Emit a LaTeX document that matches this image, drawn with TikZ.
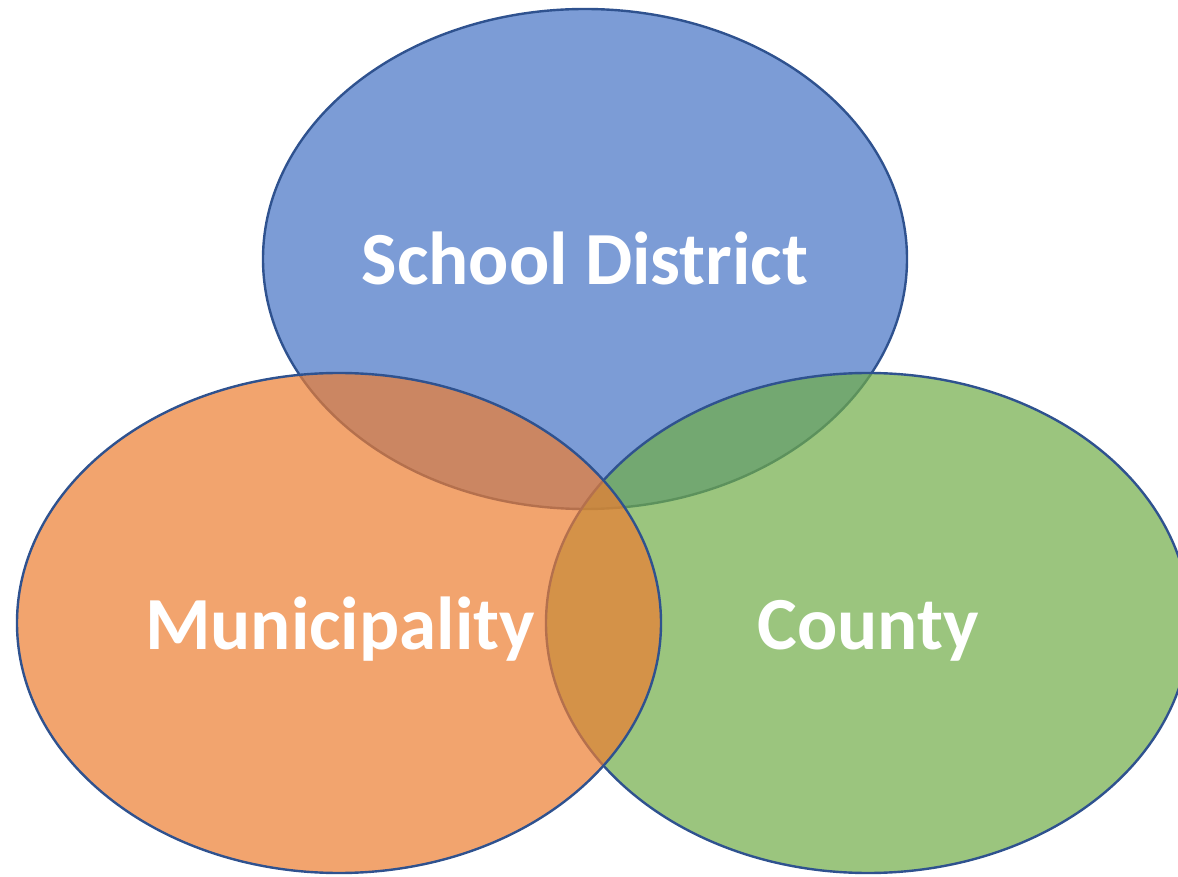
\documentclass[tikz,border=0pt]{standalone}
\usepackage{fontspec}
\setmainfont{Carlito}
\begin{document}
\begin{tikzpicture}[x=1pt,y=1pt,
  venn/.style={draw=rimblue, line width=2.4pt, fill opacity=0.7},
  label/.style={text=white, font=\bfseries\fontsize{75}{84}\selectfont, anchor=base}]
\definecolor{rimblue}{HTML}{2F528F}
\definecolor{setblue}{HTML}{4472C4}
\definecolor{setorange}{HTML}{ED7D31}
\definecolor{setgreen}{HTML}{70AD47}
\useasboundingbox (0,0) rectangle (1178,876);
\begin{scope}
\clip (0,0) rectangle (1178,876);
% three overlapping sets
\draw[venn, fill=setblue] (585,617) ellipse [x radius=322, y radius=250];
\draw[venn, fill=setgreen] (868,253) ellipse [x radius=322, y radius=250];
\draw[venn, fill=setorange] (339,253) ellipse [x radius=322, y radius=250];
\end{scope}
% set names
\node[label] (school) at (585,591) {School District};
\node[label] (muni) at (340,226) {Municipality};
\node[label] (county) at (868,226) {County};
\end{tikzpicture}
\end{document}
